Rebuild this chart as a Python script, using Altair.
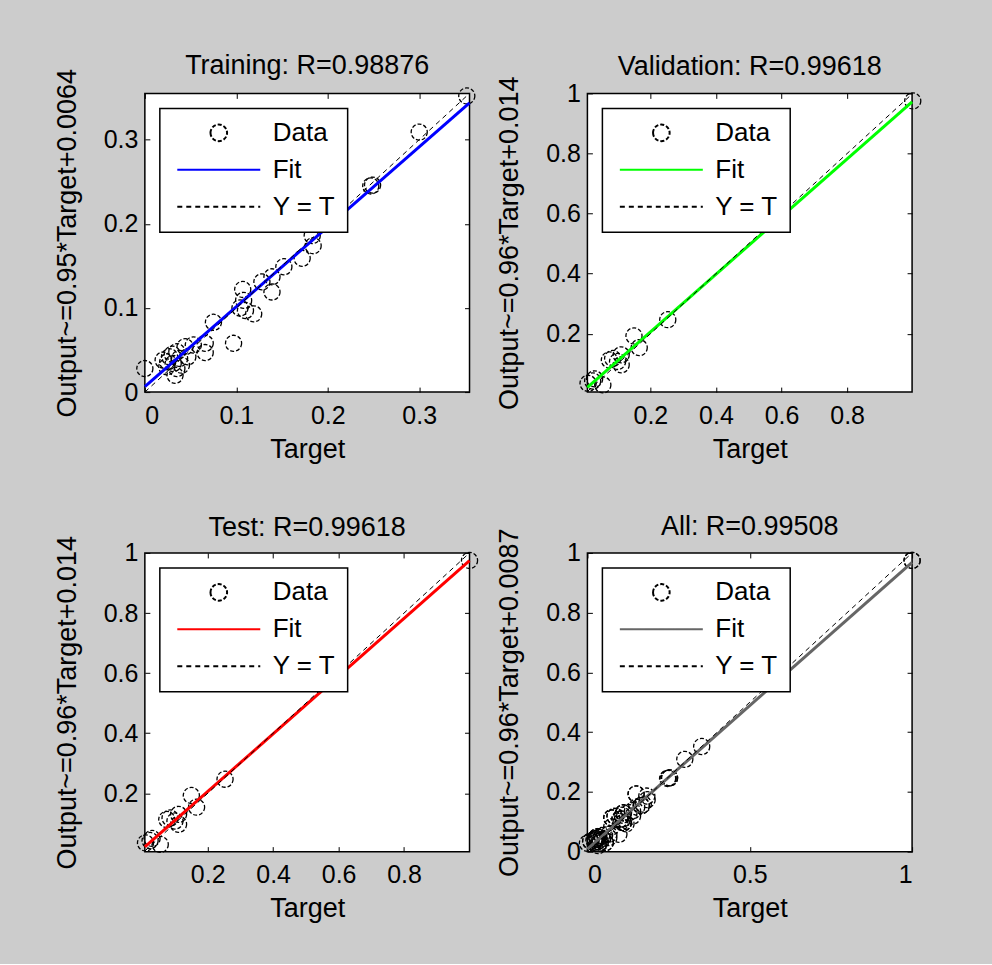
import altair as alt
import pandas as pd

FONT = "Liberation Sans"
FS = 26          # legend labels
FS_TICK = 25     # tick labels
FS_TITLE = 27    # panel and axis titles

series_names = ["Data", "Fit", "Y = T"]

# Training set
train_target = [0.352, 0.300, 0.247, 0.249, 0.183, 0.184, 0.172, 0.152, 0.139, 0.128,
                0.139, 0.107, 0.108, 0.110, 0.119, 0.104, 0.075, 0.097, 0.066, 0.066,
                0.053, 0.044, 0.035, 0.027, 0.020, 0.031, 0.035, 0.033, 0.000, 0.024,
                0.038, 0.047, 0.030, 0.025, 0.040]
train_output = [0.352, 0.309, 0.245, 0.246, 0.186, 0.174, 0.159, 0.149, 0.137, 0.131,
                0.119, 0.122, 0.109, 0.097, 0.093, 0.100, 0.083, 0.058, 0.058, 0.047,
                0.056, 0.054, 0.048, 0.042, 0.038, 0.034, 0.028, 0.020, 0.028, 0.030,
                0.040, 0.042, 0.045, 0.036, 0.032]

# Validation set
val_target = [0.010, 0.030, 0.024, 0.055, 0.075, 0.085, 0.111, 0.111, 0.100, 0.150,
              0.166, 0.253, 1.000]
val_output = [0.035, 0.050, 0.043, 0.030, 0.113, 0.118, 0.130, 0.097, 0.108, 0.193,
              0.154, 0.247, 0.975]

# Test set
test_target = [0.010, 0.030, 0.024, 0.055, 0.075, 0.085, 0.111, 0.111, 0.100, 0.150,
               0.166, 0.253, 1.000]
test_output = [0.035, 0.050, 0.043, 0.030, 0.113, 0.118, 0.130, 0.097, 0.108, 0.193,
               0.154, 0.247, 0.975]

all_target = train_target + val_target + test_target
all_output = train_output + val_output + test_output

titles = ["Training: R=0.98876", "Validation: R=0.99618", "Test: R=0.99618", "All: R=0.99508"]
fit_slopes = [0.95, 0.96, 0.96, 0.96]
fit_intercepts = [0.0064, 0.014, 0.014, 0.0087]
fit_labels = ["0.95", "0.96", "0.96", "0.96"]
intercept_labels = ["0.0064", "0.014", "0.014", "0.0087"]
fit_colors = ["#0000ff", "#00ff00", "#ff0000", "#666666"]
x_domains = [[0.0, 0.355], [0.008, 0.998], [0.008, 1.0], [0.0, 1.0]]
y_domains = [[0.0, 0.355], [0.006, 1.0], [0.006, 1.0], [0.0, 1.0]]
x_ticks = [[0, 0.1, 0.2, 0.3], [0.2, 0.4, 0.6, 0.8], [0.2, 0.4, 0.6, 0.8], [0, 0.5, 1]]
y_ticks = [[0, 0.1, 0.2, 0.3], [0.2, 0.4, 0.6, 0.8, 1], [0.2, 0.4, 0.6, 0.8, 1],
           [0, 0.2, 0.4, 0.6, 0.8, 1]]
# the long axis titles push the panel titles up; nudge them back down
title_dy = [12, 5, 7, 13]

CIRCLE_PATH = "M-0.2,0A0.2,0.2 0 1,0 0.2,0A0.2,0.2 0 1,0 -0.2,0Z"
CIRCLE_DASH = [4, 2]
TICK_IN = {"expr": "-5"}


def panel(i, target, output):
    pts = pd.DataFrame({"Target": target, "Output": output, "series": "Data"})
    lo, hi = x_domains[i]
    fit = pd.DataFrame({"Target": [lo, hi],
                        "Output": [fit_slopes[i] * lo + fit_intercepts[i],
                                   fit_slopes[i] * hi + fit_intercepts[i]],
                        "series": "Fit"})
    ident = pd.DataFrame({"Target": [lo, hi], "Output": [lo, hi], "series": "Y = T"})

    legend = alt.Legend(
        title=None, orient="top-left", offset=15, padding=12,
        symbolSize=6900, symbolStrokeWidth=2,
        symbolType={"expr": "datum.value === 'Data' ? '%s' : 'stroke'" % CIRCLE_PATH},
        symbolDash={"expr": "datum.value === 'Y = T' ? [5, 4] : "
                            "(datum.value === 'Data' ? [4, 2] : [1, 0])"},
        clipHeight=25, rowPadding=10, labelOffset=11, symbolOffset=4,
        labelFont=FONT, labelFontSize=FS, labelColor="black",
        strokeColor="black", fillColor="white",
    )
    color = alt.Color("series:N",
                      scale=alt.Scale(domain=series_names,
                                      range=["black", fit_colors[i], "black"]),
                      legend=legend)
    xs = alt.Scale(domain=x_domains[i], nice=False, zero=False)
    ys = alt.Scale(domain=y_domains[i], nice=False, zero=False)
    ytitle = "Output~=%s*Target+%s" % (fit_labels[i], intercept_labels[i])

    x_bottom = alt.Axis(values=x_ticks[i], format="~g", title="Target", orient="bottom",
                        domain=False, grid=False, tickSize=TICK_IN, tickColor="black",
                        labelPadding=16, titlePadding=8)
    y_left = alt.Axis(values=y_ticks[i], format="~g", title=ytitle, orient="left",
                      domain=False, grid=False, tickSize=TICK_IN, tickColor="black",
                      labelPadding=12, titlePadding=22)
    x_top = alt.Axis(values=x_ticks[i], orient="top", title=None, labels=False,
                     domain=False, grid=False, tickSize=TICK_IN, tickColor="black")
    y_right = alt.Axis(values=y_ticks[i], orient="right", title=None, labels=False,
                       domain=False, grid=False, tickSize=TICK_IN, tickColor="black")

    points = alt.Chart(pts).mark_point(size=260, strokeWidth=1.3, filled=False,
                                       opacity=1, strokeDash=CIRCLE_DASH).encode(
        x=alt.X("Target:Q", scale=xs, axis=x_bottom),
        y=alt.Y("Output:Q", scale=ys, axis=y_left),
        color=color,
    )
    fit_line = alt.Chart(fit).mark_line(strokeWidth=3).encode(
        x=alt.X("Target:Q", scale=xs, axis=None),
        y=alt.Y("Output:Q", scale=ys, axis=None),
        color=color,
    )
    ident_line = alt.Chart(ident).mark_line(strokeWidth=1, strokeDash=[5, 4]).encode(
        x=alt.X("Target:Q", scale=xs, axis=x_top),
        y=alt.Y("Output:Q", scale=ys, axis=y_right),
        color=color,
    )
    return alt.layer(points, fit_line, ident_line).resolve_axis(
        x="independent", y="independent"
    ).properties(
        width=325, height=299,
        title=alt.TitleParams(titles[i], font=FONT, fontSize=FS_TITLE, fontWeight="normal",
                              color="black", offset=0, dy=title_dy[i]),
    )


p_train = panel(0, train_target, train_output)
p_val = panel(1, val_target, val_output)
p_test = panel(2, test_target, test_output)
p_all = panel(3, all_target, all_output)

chart = alt.concat(
    p_train, p_val, p_test, p_all,
    columns=2, spacing={"row": 161, "column": 118}, bounds="flush",
).resolve_scale(
    x="independent", y="independent", color="independent"
).properties(
    padding={"left": 52, "top": 51, "right": 67, "bottom": 41},
    background="#cccccc",
).configure_view(
    stroke="black", strokeWidth=1.5, fill="white"
).configure_axis(
    labelFont=FONT, labelFontSize=FS_TICK, labelColor="black",
    titleFont=FONT, titleFontSize=FS_TITLE, titleColor="black", titleFontWeight="normal",
).configure_legend(
    strokeWidth=1.5
)

chart.save("out.html", embed_options={"renderer": "svg", "actions": False})
